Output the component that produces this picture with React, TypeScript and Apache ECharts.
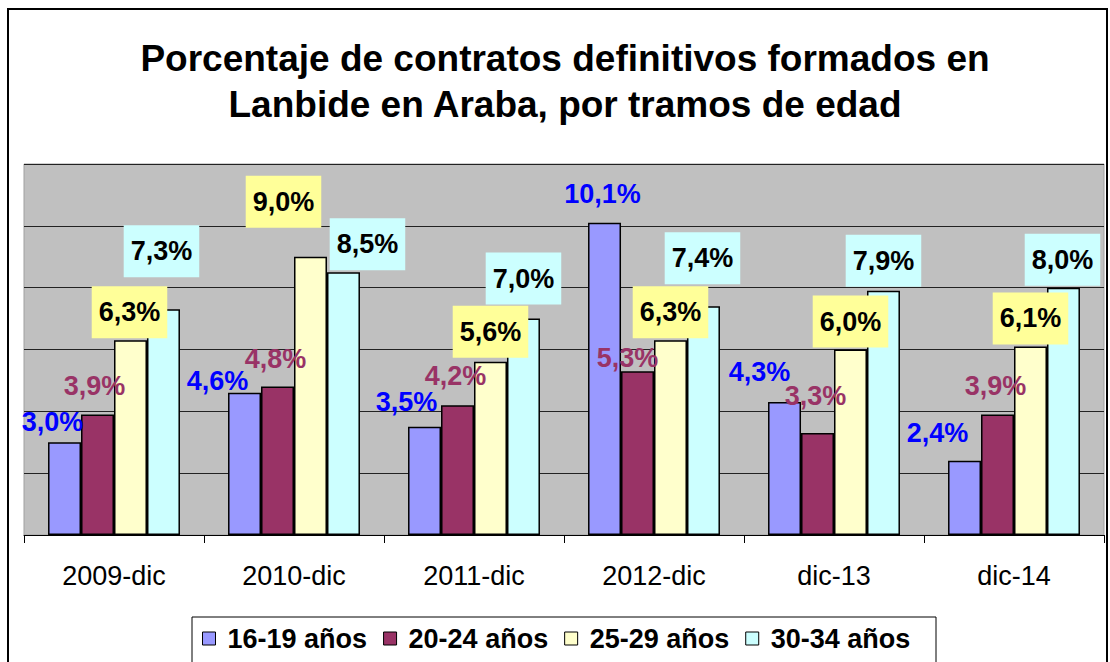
import React, { useEffect, useRef } from "react";
import * as echarts from "echarts";

const categories = ["2009-dic", "2010-dic", "2011-dic", "2012-dic", "dic-13", "dic-14"];
const seriesNames = ["16-19 años", "20-24 años", "25-29 años", "30-34 años"];
const v1619 = [3.0, 4.6, 3.5, 10.1, 4.3, 2.4];
const v2024 = [3.9, 4.8, 4.2, 5.3, 3.3, 3.9];
const v2529 = [6.3, 9.0, 5.6, 6.3, 6.0, 6.1];
const v3034 = [7.3, 8.5, 7.0, 7.4, 7.9, 8.0];
const titleLines = ["Porcentaje de contratos definitivos formados en", "Lanbide en Araba, por tramos de edad"];

// label placement (dx, distance above bar top to label centre), styling only
const off1619 = [[-12, 20], [-27, 12], [-18, 25], [-2, 29], [-25, 30], [-27, 28]];
const off2024 = [[-3, 28], [-2, 28], [-2, 29], [-10, 13], [-2, 37], [-2, 28]];
const off2529 = [[-1, 28], [-27, 55], [0, 30], [0, 28], [0, 28], [0, 28]];
const off3034 = [[-2, 58], [24, 28], [0, 40], [-1, 48], [0, 30], [-1, 28]];

const FONT = "'Liberation Sans', Arial, sans-serif";
const barColors = ["#9999FF", "#993366", "#FFFFCC", "#CCFFFF"];
const labelColors = ["#0000FF", "#993366", "#000000", "#000000"];
const labelBgs = [null, null, "#FFFF99", "#CCFFFF"];

const fmt = (v: number) => v.toFixed(1).replace(".", ",") + "%";

export default function App() {
  const ref = useRef<HTMLDivElement>(null);
  useEffect(() => {
    if (!ref.current) return;
    const chart = echarts.init(ref.current, null, { renderer: "svg" });
    const allVals = [v1619, v2024, v2529, v3034];
    const allOffs = [off1619, off2024, off2529, off3034];
    const series = seriesNames.map((name, si) => ({
      name,
      type: "bar",
      barGap: "0%",
      barCategoryGap: "26.7%",
      itemStyle: { color: barColors[si], borderColor: "#000", borderWidth: 1.5 },
      data: allVals[si].map((v, i) => {
        const bg = labelBgs[si];
        return {
          value: v,
          label: {
            show: true,
            position: "top",
            distance: 0,
            align: "center",
            verticalAlign: "middle",
            offset: [allOffs[si][i][0], -allOffs[si][i][1]],
            formatter: fmt(v),
            color: labelColors[si],
            fontFamily: FONT,
            fontWeight: "bold",
            fontSize: 27,
            lineHeight: 28,
            ...(bg ? { backgroundColor: bg, padding: [12, 7] } : {}),
          },
        };
      }),
    }));
    chart.setOption({
      animation: false,
      backgroundColor: "#fff",
      grid: {
        left: 24,
        right: 6,
        top: 164,
        bottom: 127,
        show: true,
        backgroundColor: "#C0C0C0",
        borderColor: "#A0A0A0",
        borderWidth: 1,
      },
      legend: {
        left: 202,
        top: 625,
        padding: 0,
        itemGap: 16,
        itemWidth: 13,
        itemHeight: 13,
        icon: "rect",
        itemStyle: { borderColor: "#000", borderWidth: 1 },
        textStyle: {
          fontFamily: FONT,
          fontWeight: "bold",
          fontSize: 27,
          color: "#000",
          padding: [0, 0, 0, 7],
        },
        data: seriesNames,
      },
      xAxis: {
        type: "category",
        data: categories,
        axisLine: { lineStyle: { color: "#000", width: 1 } },
        axisTick: { show: true, length: 8, lineStyle: { color: "#000" } },
        axisLabel: { fontFamily: FONT, fontSize: 27, color: "#000", margin: 27 },
      },
      yAxis: {
        type: "value",
        min: 0,
        max: 12,
        interval: 2,
        axisLine: { show: false },
        axisTick: { show: false },
        axisLabel: { show: false },
        splitLine: { show: true, lineStyle: { color: "#222", width: 1 } },
      },
      graphic: [
        {
          type: "rect",
          shape: { x: 8, y: 9, width: 1099, height: 700 },
          style: { fill: "none", stroke: "#000", lineWidth: 2 },
          silent: true,
        },
        {
          type: "rect",
          shape: { x: 192, y: 617, width: 744, height: 60 },
          style: { fill: "none", stroke: "#000", lineWidth: 1 },
          silent: true,
        },
        ...titleLines.map((t, i) => ({
          type: "text",
          x: 565,
          y: 58 + i * 46,
          style: {
            text: t,
            textAlign: "center",
            textVerticalAlign: "middle",
            fontFamily: FONT,
            fontWeight: "bold",
            fontSize: 37,
            fill: "#000",
          },
        })),
      ],
      series,
    });
    return () => chart.dispose();
  }, []);
  return (
    <div
      ref={ref}
      style={{ position: "absolute", left: 0, top: 0, width: 1110, height: 662 }}
    />
  );
}
